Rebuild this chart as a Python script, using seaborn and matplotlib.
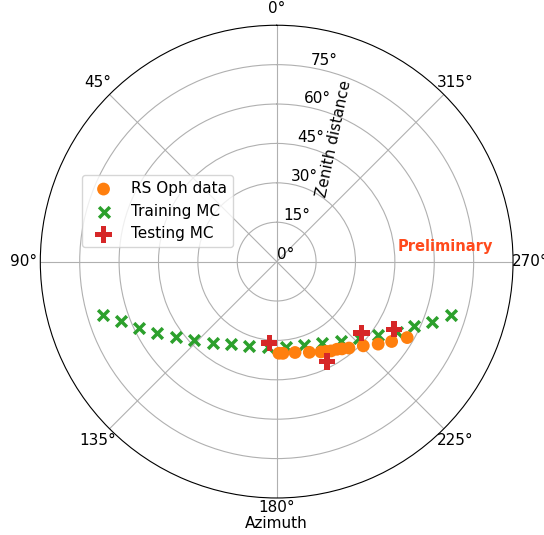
import numpy as np
import pandas as pd
import matplotlib
matplotlib.use('Agg')
import matplotlib.pyplot as plt
import seaborn as sns

plt.rcParams['font.size'] = 11

# azimuth (deg) and zenith distance (deg)
train_az = [107.0, 111.0, 115.6, 120.7, 126.7, 133.5, 141.7, 151.1, 162.1, 174.2,
            186.2, 198.1, 209.2, 218.9, 227.2, 234.1, 239.7, 244.7, 248.9, 253.0]
train_zd = [69.3, 63.6, 58.1, 52.9, 48.0, 43.3, 39.3, 36.0, 33.7, 32.5,
            32.6, 33.4, 35.6, 38.8, 42.7, 47.6, 52.9, 57.8, 63.4, 69.3]

test_az = [174.8, 206.6, 229.9, 240.0]
test_zd = [31.2, 42.6, 42.3, 51.5]

data_az = [181.4, 183.9, 191.4, 199.8, 206.1, 208.8, 211.3, 214.5, 216.8, 219.9,
           225.8, 230.9, 235.2, 239.8]
data_zd = [34.9, 35.0, 35.3, 36.7, 38.3, 39.0, 39.8, 40.5, 41.5, 42.9,
           46.0, 49.8, 53.3, 57.5]

r_ticks = [0, 15, 30, 45, 60, 75]
theta_ticks = [0, 45, 90, 135, 180, 225, 270, 315]

df_data = pd.DataFrame({'az': np.radians(data_az), 'zd': data_zd})
df_train = pd.DataFrame({'az': np.radians(train_az), 'zd': train_zd})
df_test = pd.DataFrame({'az': np.radians(test_az), 'zd': test_zd})

fig = plt.figure(figsize=(5.44, 5.35), dpi=100)
ax = fig.add_axes([0.0741, 0.069, 0.869, 0.884], projection='polar')
ax.set_theta_zero_location('N')
ax.set_theta_direction(1)

sns.scatterplot(data=df_data, x='az', y='zd', ax=ax, color='#ff7f0e', marker='o',
                s=85, edgecolor='none', label='RS Oph data', zorder=4)
sns.scatterplot(data=df_train, x='az', y='zd', ax=ax, color='#2ca02c', marker='x',
                s=60, linewidth=2.5, label='Training MC', zorder=3)
sns.scatterplot(data=df_test, x='az', y='zd', ax=ax, color='#d62728', marker='P',
                s=140, edgecolor='none', label='Testing MC', zorder=5)

ax.set_rlim(0, 90)
ax.set_yticks(r_ticks)
ax.set_yticklabels([f'{t}°' for t in r_ticks])
ax.set_rlabel_position(-10)
ax.set_xticks(np.radians(theta_ticks))
ax.set_xticklabels([f'{t}°' for t in theta_ticks])
ax.tick_params(axis='x', pad=1.5)
ax.set_ylabel('')
ax.set_xlabel('Azimuth', labelpad=1)
ax.grid(True)

ax.text(0.621, 0.760, 'Zenith distance', transform=ax.transAxes, rotation=78,
        ha='center', va='center')
ax.text(0.856, 0.531, 'Preliminary', transform=ax.transAxes, color='#ff4a1c',
        fontweight='bold', fontsize=10.5, ha='center', va='center')

ax.legend(loc='upper left', bbox_to_anchor=(0.151, 0.673),
          bbox_transform=fig.transFigure, borderaxespad=0)

# the 180° label sits right on the rim in the original
fig.canvas.draw()
ax.get_xticklabels()[4].set_va('bottom')

fig.savefig('out.png', dpi=100)
